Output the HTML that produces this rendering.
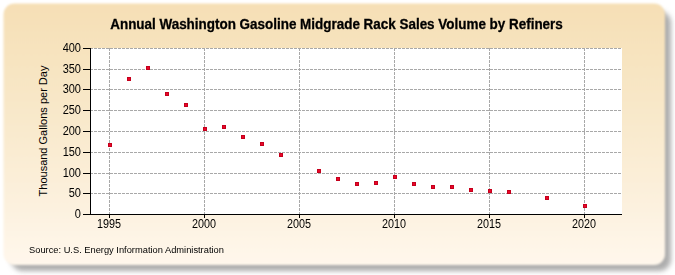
<!DOCTYPE html>
<html><head><meta charset="utf-8"><style>
html,body{margin:0;padding:0;background:#fff;width:675px;height:275px;overflow:hidden;position:relative;font-family:"Liberation Sans",sans-serif;}
svg{position:absolute;left:0;top:0;}
.title{position:absolute;left:-1px;width:675px;top:16px;text-align:center;font-weight:bold;font-size:14px;transform:scaleX(0.96);line-height:16px;color:#000;-webkit-text-stroke:0.3px #000;}
.yl{position:absolute;left:40px;width:41px;text-align:right;font-size:12px;line-height:14px;color:#000;transform:scaleX(0.917);transform-origin:right center;}
.xl{position:absolute;top:217px;width:40px;text-align:center;font-size:12px;line-height:14px;color:#000;transform:scaleX(0.9);}
.ylab{position:absolute;left:-32px;top:124px;width:150px;white-space:nowrap;text-align:center;font-size:11px;line-height:14px;transform:rotate(-90deg);color:#000;}
.src{position:absolute;left:29px;top:243px;font-size:9.7px;line-height:13px;color:#000;transform:scaleX(0.96);transform-origin:left center;white-space:nowrap;}
</style></head><body>
<svg width="675" height="275" style="position:absolute;left:0;top:0">
<defs>
<linearGradient id="bg" x1="0" y1="0" x2="0" y2="1"><stop offset="0" stop-color="#f6dfb5"/><stop offset="0.5" stop-color="#f9eace"/><stop offset="1" stop-color="#fff7ec"/></linearGradient>
<filter id="fs" x="-5%" y="-5%" width="110%" height="110%"><feGaussianBlur stdDeviation="2.5"/></filter>
<filter id="fb" x="-5%" y="-5%" width="110%" height="110%"><feGaussianBlur stdDeviation="1.0"/></filter>
</defs>
<rect x="11" y="11" width="660" height="260" rx="12" fill="#adadad" filter="url(#fs)"/>
<rect x="3.5" y="3.5" width="661.5" height="261.5" rx="11" fill="url(#bg)" filter="url(#fb)"/>
</svg>
<svg width="675" height="275" shape-rendering="crispEdges">
<rect x="90" y="48" width="532" height="166" fill="#ffffff"/>
<line x1="90" y1="48.5" x2="622" y2="48.5" stroke="#a8a8a8" stroke-width="1" stroke-dasharray="3 1"/>
<line x1="90" y1="69.5" x2="622" y2="69.5" stroke="#a8a8a8" stroke-width="1" stroke-dasharray="3 1"/>
<line x1="90" y1="89.5" x2="622" y2="89.5" stroke="#a8a8a8" stroke-width="1" stroke-dasharray="3 1"/>
<line x1="90" y1="110.5" x2="622" y2="110.5" stroke="#a8a8a8" stroke-width="1" stroke-dasharray="3 1"/>
<line x1="90" y1="131.5" x2="622" y2="131.5" stroke="#a8a8a8" stroke-width="1" stroke-dasharray="3 1"/>
<line x1="90" y1="152.5" x2="622" y2="152.5" stroke="#a8a8a8" stroke-width="1" stroke-dasharray="3 1"/>
<line x1="90" y1="173.5" x2="622" y2="173.5" stroke="#a8a8a8" stroke-width="1" stroke-dasharray="3 1"/>
<line x1="90" y1="193.5" x2="622" y2="193.5" stroke="#a8a8a8" stroke-width="1" stroke-dasharray="3 1"/>
<line x1="109.5" y1="48" x2="109.5" y2="214" stroke="#a8a8a8" stroke-width="1" stroke-dasharray="3 1"/>
<line x1="204.5" y1="48" x2="204.5" y2="214" stroke="#a8a8a8" stroke-width="1" stroke-dasharray="3 1"/>
<line x1="299.5" y1="48" x2="299.5" y2="214" stroke="#a8a8a8" stroke-width="1" stroke-dasharray="3 1"/>
<line x1="394.5" y1="48" x2="394.5" y2="214" stroke="#a8a8a8" stroke-width="1" stroke-dasharray="3 1"/>
<line x1="489.5" y1="48" x2="489.5" y2="214" stroke="#a8a8a8" stroke-width="1" stroke-dasharray="3 1"/>
<line x1="584.5" y1="48" x2="584.5" y2="214" stroke="#a8a8a8" stroke-width="1" stroke-dasharray="3 1"/>
<rect x="90" y="48" width="1" height="167" fill="#000"/>
<rect x="90" y="214" width="532" height="1" fill="#000"/>
<rect x="83" y="48" width="7" height="1" fill="#000"/>
<rect x="83" y="69" width="7" height="1" fill="#000"/>
<rect x="83" y="89" width="7" height="1" fill="#000"/>
<rect x="83" y="110" width="7" height="1" fill="#000"/>
<rect x="83" y="131" width="7" height="1" fill="#000"/>
<rect x="83" y="152" width="7" height="1" fill="#000"/>
<rect x="83" y="173" width="7" height="1" fill="#000"/>
<rect x="83" y="193" width="7" height="1" fill="#000"/>
<rect x="83" y="214" width="7" height="1" fill="#000"/>
<rect x="109" y="215" width="1" height="3" fill="#000"/>
<rect x="204" y="215" width="1" height="3" fill="#000"/>
<rect x="299" y="215" width="1" height="3" fill="#000"/>
<rect x="394" y="215" width="1" height="3" fill="#000"/>
<rect x="489" y="215" width="1" height="3" fill="#000"/>
<rect x="584" y="215" width="1" height="3" fill="#000"/>
<rect x="108" y="143" width="4" height="4" fill="#c4001c"/><rect x="109" y="144" width="2" height="2" fill="#ea0628"/>
<rect x="127" y="77" width="4" height="4" fill="#c4001c"/><rect x="128" y="78" width="2" height="2" fill="#ea0628"/>
<rect x="146" y="66" width="4" height="4" fill="#c4001c"/><rect x="147" y="67" width="2" height="2" fill="#ea0628"/>
<rect x="165" y="92" width="4" height="4" fill="#c4001c"/><rect x="166" y="93" width="2" height="2" fill="#ea0628"/>
<rect x="184" y="103" width="4" height="4" fill="#c4001c"/><rect x="185" y="104" width="2" height="2" fill="#ea0628"/>
<rect x="203" y="127" width="4" height="4" fill="#c4001c"/><rect x="204" y="128" width="2" height="2" fill="#ea0628"/>
<rect x="222" y="125" width="4" height="4" fill="#c4001c"/><rect x="223" y="126" width="2" height="2" fill="#ea0628"/>
<rect x="241" y="135" width="4" height="4" fill="#c4001c"/><rect x="242" y="136" width="2" height="2" fill="#ea0628"/>
<rect x="260" y="142" width="4" height="4" fill="#c4001c"/><rect x="261" y="143" width="2" height="2" fill="#ea0628"/>
<rect x="279" y="153" width="4" height="4" fill="#c4001c"/><rect x="280" y="154" width="2" height="2" fill="#ea0628"/>
<rect x="317" y="169" width="4" height="4" fill="#c4001c"/><rect x="318" y="170" width="2" height="2" fill="#ea0628"/>
<rect x="336" y="177" width="4" height="4" fill="#c4001c"/><rect x="337" y="178" width="2" height="2" fill="#ea0628"/>
<rect x="355" y="182" width="4" height="4" fill="#c4001c"/><rect x="356" y="183" width="2" height="2" fill="#ea0628"/>
<rect x="374" y="181" width="4" height="4" fill="#c4001c"/><rect x="375" y="182" width="2" height="2" fill="#ea0628"/>
<rect x="393" y="175" width="4" height="4" fill="#c4001c"/><rect x="394" y="176" width="2" height="2" fill="#ea0628"/>
<rect x="412" y="182" width="4" height="4" fill="#c4001c"/><rect x="413" y="183" width="2" height="2" fill="#ea0628"/>
<rect x="431" y="185" width="4" height="4" fill="#c4001c"/><rect x="432" y="186" width="2" height="2" fill="#ea0628"/>
<rect x="450" y="185" width="4" height="4" fill="#c4001c"/><rect x="451" y="186" width="2" height="2" fill="#ea0628"/>
<rect x="469" y="188" width="4" height="4" fill="#c4001c"/><rect x="470" y="189" width="2" height="2" fill="#ea0628"/>
<rect x="488" y="189" width="4" height="4" fill="#c4001c"/><rect x="489" y="190" width="2" height="2" fill="#ea0628"/>
<rect x="507" y="190" width="4" height="4" fill="#c4001c"/><rect x="508" y="191" width="2" height="2" fill="#ea0628"/>
<rect x="545" y="196" width="4" height="4" fill="#c4001c"/><rect x="546" y="197" width="2" height="2" fill="#ea0628"/>
<rect x="583" y="204" width="4" height="4" fill="#c4001c"/><rect x="584" y="205" width="2" height="2" fill="#ea0628"/>
</svg>
<div class="title">Annual Washington Gasoline Midgrade Rack Sales Volume by Refiners</div>
<div class="yl" style="top:41px">400</div>
<div class="yl" style="top:62px">350</div>
<div class="yl" style="top:82px">300</div>
<div class="yl" style="top:103px">250</div>
<div class="yl" style="top:124px">200</div>
<div class="yl" style="top:145px">150</div>
<div class="yl" style="top:166px">100</div>
<div class="yl" style="top:186px">50</div>
<div class="yl" style="top:207px">0</div>
<div class="xl" style="left:89px">1995</div>
<div class="xl" style="left:184px">2000</div>
<div class="xl" style="left:279px">2005</div>
<div class="xl" style="left:374px">2010</div>
<div class="xl" style="left:469px">2015</div>
<div class="xl" style="left:564px">2020</div>
<div class="ylab">Thousand Gallons per Day</div>
<div class="src">Source: U.S. Energy Information Administration</div>
</body></html>
